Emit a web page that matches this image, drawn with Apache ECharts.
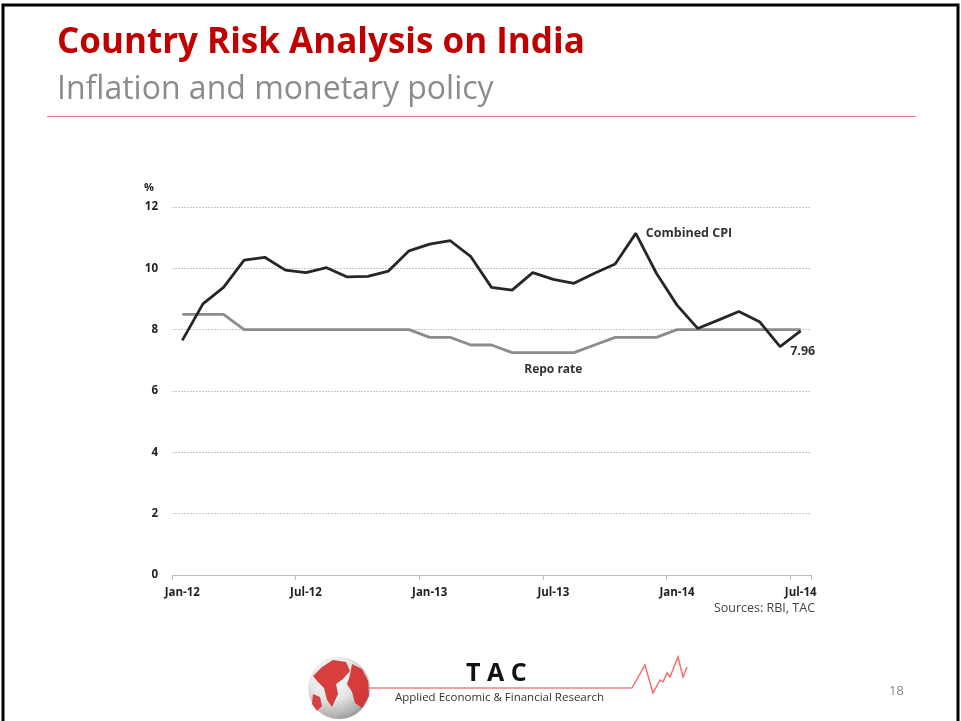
<!DOCTYPE html>
<html><head><meta charset="utf-8">
<script src="https://cdn.jsdelivr.net/npm/echarts@6/dist/echarts.min.js"></script>
<style>html,body{margin:0;padding:0;background:#fff}#c{width:961px;height:721px}</style>
</head><body><div id="c"></div>
<script>
const months = ['Jan-12','Feb-12','Mar-12','Apr-12','May-12','Jun-12','Jul-12','Aug-12','Sep-12','Oct-12','Nov-12','Dec-12',
'Jan-13','Feb-13','Mar-13','Apr-13','May-13','Jun-13','Jul-13','Aug-13','Sep-13','Oct-13','Nov-13','Dec-13',
'Jan-14','Feb-14','Mar-14','Apr-14','May-14','Jun-14','Jul-14'];
const combinedCPI = [7.65,8.84,9.38,10.27,10.36,9.94,9.86,10.02,9.72,9.74,9.91,10.57,
10.79,10.90,10.38,9.38,9.29,9.86,9.64,9.51,9.84,10.14,11.14,9.84,
8.80,8.04,8.31,8.59,8.26,7.45,7.96];
const repoRate = [8.5,8.5,8.5,8.0,8.0,8.0,8.0,8.0,8.0,8.0,8.0,8.0,
7.75,7.75,7.5,7.5,7.25,7.25,7.25,7.25,7.5,7.75,7.75,7.75,
8.0,8.0,8.0,8.0,8.0,8.0,8.0];
const yTicks = [0,2,4,6,8,10,12];

const chart = echarts.init(document.getElementById('c'), null, {renderer:'canvas'});
const lblFont = {fontFamily:'Open Sans', fontWeight:'bold', fontSize:12, color:'#333'};

const cpiData = combinedCPI.map((v,i)=>{
  if (i===22) return {value:v, label:{show:true, position:'right', distance:10, offset:[0,0], formatter:'Combined CPI', ...lblFont, fontSize:12.5}};
  if (i===combinedCPI.length-1) return {value:v, label:{show:true, position:'bottom', distance:14, offset:[2,0], formatter:'{c}', ...lblFont, fontSize:12.5}};
  return v;
});
const repoData = repoRate.map((v,i)=>{
  if (i===18) return {value:v, label:{show:true, position:'bottom', distance:11, formatter:'Repo rate', ...lblFont}};
  return v;
});

const zig = [[632,688],[645,665],[653,693],[660,680],[663,682],[667,673],[670,677],[678,657],[683,677],[687,667]];

chart.setOption({
  animation:false,
  backgroundColor:'#fff',
  grid:{left:172, right:150, top:207, bottom:146, containLabel:false},
  xAxis:{
    type:'category', data:months, boundaryGap:true,
    axisLine:{show:true, lineStyle:{color:'#bfbfbf', width:1}},
    axisTick:{show:true, interval:5, length:5, lineStyle:{color:'#bfbfbf'}},
    axisLabel:{interval:5, margin:12, fontFamily:'Open Sans', fontWeight:'bold', fontSize:11.5, color:'#222'}
  },
  yAxis:{
    type:'value', min:0, max:12, interval:2,
    name:'%', nameLocation:'end', nameGap:14,
    nameTextStyle:{fontFamily:'Open Sans', fontWeight:'bold', fontSize:11, color:'#222', align:'right', padding:[0,18,0,0]},
    axisLine:{show:false}, axisTick:{show:false},
    axisLabel:{margin:14, fontFamily:'Open Sans', fontWeight:'bold', fontSize:11.5, color:'#222',
      formatter:v=> yTicks.includes(v)? String(v):''},
    splitLine:{show:true, lineStyle:{color:'#c8c8c8', type:[2,1], width:1}}
  },
  series:[
    {name:'Repo rate', type:'line', data:repoData, symbol:'circle', symbolSize:0, showSymbol:true, z:2,
      lineStyle:{color:'#8c8c8c', width:2.8}, itemStyle:{color:'#8c8c8c'}},
    {name:'Combined CPI', type:'line', data:cpiData, symbol:'circle', symbolSize:0, showSymbol:true, z:3,
      lineStyle:{color:'#262626', width:2.8}, itemStyle:{color:'#262626'}}
  ],
  graphic:[
    {type:'rect', shape:{x:3, y:5, width:955, height:730}, style:{fill:'none', stroke:'#000', lineWidth:3}, silent:true},
    {type:'text', left:57, top:26, style:{text:'Country Risk Analysis on India', fontFamily:'Open Sans', fontWeight:'bold', fontSize:35, fill:'#c00000'}},
    {type:'text', left:57, top:74, style:{text:'Inflation and monetary policy', fontFamily:'Open Sans', fontSize:32, fill:'#8c8c8c'}},
    {type:'line', shape:{x1:47, y1:116.5, x2:916, y2:116.5}, style:{stroke:'#c0504d', lineWidth:1.2, opacity:0.7}},
    {type:'text', right:146, top:602, style:{text:'Sources: RBI, TAC', fontFamily:'Open Sans', fontSize:12.5, fill:'#444', align:'right'}},
    {type:'line', shape:{x1:368, y1:688, x2:632, y2:688}, style:{stroke:'#f08080', lineWidth:1.5}},
    {type:'polyline', shape:{points:zig}, style:{stroke:'#f07070', lineWidth:1.5, fill:'none'}},
    {type:'circle', shape:{cx:339, cy:688, r:31}, style:{fill:{type:'radial', x:0.38, y:0.32, r:0.75,
      colorStops:[{offset:0, color:'#ffffff'},{offset:0.5, color:'#e6e6e6'},{offset:0.85, color:'#b0b0b0'},{offset:1, color:'#8a8a8a'}]}}},
    {type:'polygon', shape:{points:[[322,667],[333,660],[346,662],[350,671],[343,679],[336,684],[338,694],[332,707],[327,700],[324,688],[318,682],[313,676]]},
      style:{fill:'#d42a2a', opacity:0.9}},
    {type:'polygon', shape:{points:[[352,664],[362,669],[368,681],[369,696],[362,708],[355,703],[352,692],[347,684],[350,675]]},
      style:{fill:'#d42a2a', opacity:0.9}},
    {type:'polygon', shape:{points:[[313,694],[320,697],[322,706],[317,711],[312,704]]}, style:{fill:'#d42a2a', opacity:0.85}},
    {type:'text', left:466, top:661, style:{text:'T A C', fontFamily:'Open Sans', fontWeight:'bold', fontSize:25, fill:'#111'}},
    {type:'text', left:395, top:692, style:{text:'Applied Economic & Financial Research', fontFamily:'Open Sans', fontSize:11.5, fill:'#333'}},
    {type:'text', left:889, top:685, style:{text:'18', fontFamily:'Open Sans', fontSize:13, fill:'#888'}}
  ]
});
</script></body></html>
